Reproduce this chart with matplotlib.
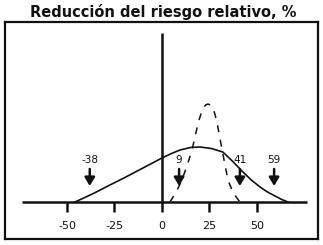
import matplotlib
matplotlib.use("Agg")
import matplotlib.pyplot as plt

plt.rcParams["lines.scale_dashes"] = False
plt.rcParams["path.simplify"] = False

# Solid curve (broad distribution)
solid_x = [-45.8, -40, -34, -27.4, -20, -14, -7, 0, 5, 9.5, 15, 20, 26, 32, 37, 42.6, 47, 51.6, 55.5, 59.5, 63, 66.3]
solid_y = [0, 5, 10.5, 17, 24, 30, 37, 44, 48.5, 52, 54.5, 55, 53.5, 50, 41, 30, 22, 15, 10, 6, 2.5, 0]

# Dashed curve (narrow distribution)
dash_x = [4.2, 7.5, 10.5, 13.5, 15.8, 17.5, 19, 20.5, 21.6, 23, 24.2, 25.5, 26.8, 28, 29, 30.5, 31.6, 33.3, 34.7, 37.5, 41]
dash_y = [0, 10, 22, 38, 52, 66, 79, 88, 94, 97, 98, 97, 94, 87, 79, 64, 52, 36, 22, 9, 0]

# Arrow markers
arrow_vals = [-38, 9, 41, 59]
arrow_labels = ["-38", "9", "41", "59"]

# Axis ticks
tick_vals = [-50, -25, 0, 25, 50]
tick_labels = ["-50", "-25", "0", "25", "50"]

title = "Reducción del riesgo relativo, %"

fig = plt.figure(figsize=(3.23, 2.45), dpi=100)
W, H = 323, 245
ax = fig.add_axes([5 / W, 1 - 239 / H, 313 / W, 217 / H])
ax.set_xlim(-82.6, 82.1)
ax.set_ylim(-37, 180)
ax.set_xticks([])
ax.set_yticks([])
for s in ax.spines.values():
    s.set_linewidth(1.6)
    s.set_color("#111111")

# horizontal axis line
ax.plot([-73.7, 76.3], [0, 0], color="#111111", lw=1.8, solid_capstyle="butt")
# vertical line at 0
ax.plot([0, 0], [0, 169], color="#111111", lw=1.8, solid_capstyle="butt")
# tick marks and labels
for v, lab in zip(tick_vals, tick_labels):
    ax.plot([v, v], [0, -10], color="#111111", lw=1.8, solid_capstyle="butt")
    ax.text(v, -24, lab, ha="center", va="center", fontsize=8,
            family="DejaVu Sans", color="#111111")

# curves
ax.plot(solid_x, solid_y, color="#111111", lw=1.2)
ax.plot(dash_x, dash_y, color="#111111", lw=1.1, linestyle=(0, (5, 5.5)),
        dash_capstyle="butt")

# arrows
for v, lab in zip(arrow_vals, arrow_labels):
    ax.annotate("", xy=(v, 16), xytext=(v, 33),
                arrowprops=dict(arrowstyle="-|>,head_width=0.3,head_length=0.5",
                                lw=1.8, color="#111111", shrinkA=0, shrinkB=0))
    ax.text(v, 42, lab, ha="center", va="center", fontsize=7.5,
            family="DejaVu Sans", color="#111111")

fig.text(163 / W, 1 - 12 / H, title, ha="center", va="center", fontsize=10.5,
         fontweight="bold", family="DejaVu Sans", color="#111111")

fig.savefig("out.png", dpi=100)
